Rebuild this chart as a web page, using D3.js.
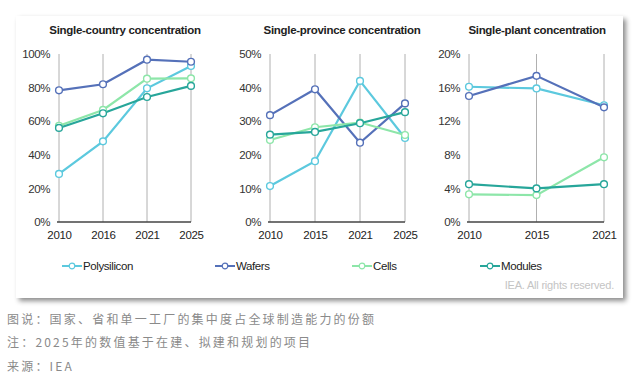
<!DOCTYPE html>
<html><head><meta charset="utf-8">
<script src="https://cdn.jsdelivr.net/npm/d3@7/dist/d3.min.js"></script>
<style>
html,body{margin:0;padding:0;background:#fff;}
svg{display:block;}
</style></head>
<body>
<svg id="c" width="640" height="379"></svg>
<script>
const seriesNames = ["Polysilicon","Wafers","Cells","Modules"];
const seriesColors = ["#5cc9de","#5571b9","#8de6a9","#27a69a"];

const countryYears = ["2010","2016","2021","2025"];
const countryPoly = [28.6,48,79.6,92.9];
const countryWafers = [78.4,82,96.6,95.4];
const countryCells = [57.3,66.7,85.3,85.5];
const countryModules = [56,64.7,74.4,81];
const countryTicks = [0,20,40,60,80,100];

const provinceYears = ["2010","2015","2021","2025"];
const provincePoly = [10.7,18.1,42,25];
const provinceWafers = [31.8,39.5,23.6,35.3];
const provinceCells = [24.4,28.2,29.6,25.9];
const provinceModules = [26,26.8,29.4,32.7];
const provinceTicks = [0,10,20,30,40,50];

const plantYears = ["2010","2015","2021"];
const plantPoly = [16.1,15.9,13.9];
const plantWafers = [15.0,17.4,13.65];
const plantCells = [3.3,3.2,7.7];
const plantModules = [4.5,4.0,4.5];
const plantTicks = [0,4,8,12,16,20];

const captions = ["图说：国家、省和单一工厂的集中度占全球制造能力的份额","注：2025年的数值基于在建、拟建和规划的项目","来源：IEA"];

const svg = d3.select("#c");
const defs = svg.append("defs");
const f = defs.append("filter").attr("id","sh").attr("x","-5%").attr("y","-5%").attr("width","110%").attr("height","115%");
f.append("feDropShadow").attr("dx",3).attr("dy",3).attr("stdDeviation",2.5).attr("flood-color","#000").attr("flood-opacity",0.45);

svg.append("rect").attr("x",16).attr("y",16).attr("width",607).attr("height",282).attr("fill","#fff").attr("filter","url(#sh)");

const panels = [
  {title:"Single-country concentration", years:countryYears, data:[countryPoly,countryWafers,countryCells,countryModules], ticks:countryTicks, x0:59, x1:191, tx:125},
  {title:"Single-province concentration", years:provinceYears, data:[provincePoly,provinceWafers,provinceCells,provinceModules], ticks:provinceTicks, x0:270, x1:405, tx:342},
  {title:"Single-plant concentration", years:plantYears, data:[plantPoly,plantWafers,plantCells,plantModules], ticks:plantTicks, x0:469, x1:604, tx:537}
];
const font = "Liberation Sans, Arial, sans-serif";
const yTop = 54, yBot = 222;

panels.forEach(p => {
  const g = svg.append("g");
  const x = d3.scalePoint().domain(p.years).range([p.x0,p.x1]);
  const y = d3.scaleLinear().domain([0,p.ticks[p.ticks.length-1]]).range([yBot,yTop]);
  g.append("text").attr("x",p.tx).attr("y",34).attr("text-anchor","middle")
    .attr("font-family",font).attr("font-weight","bold").attr("font-size",11.5).attr("fill","#222")
    .attr("letter-spacing","-0.3").text(p.title);
  g.selectAll(".vg").data(p.years).enter().append("line")
    .attr("x1",d=>x(d)).attr("x2",d=>x(d)).attr("y1",yTop).attr("y2",yBot)
    .attr("stroke","#b0b0b0").attr("stroke-width",1);
  const ya = d3.axisLeft(y).tickValues(p.ticks).tickSize(0).tickPadding(9).tickFormat(d=>d+"%");
  const yg = g.append("g").attr("transform",`translate(${p.x0},0)`).call(ya);
  yg.select(".domain").remove();
  yg.selectAll("text").attr("font-family",font).attr("font-size",11.5).attr("fill","#333").attr("letter-spacing","-0.4");
  const xa = d3.axisBottom(x).tickSize(0).tickPadding(9);
  const xg = g.append("g").attr("transform",`translate(0,${yBot})`).call(xa);
  xg.select(".domain").attr("d",`M${p.x0-2},0H${p.x1}`).attr("stroke","#444").attr("stroke-width",1.3);
  xg.selectAll("text").attr("font-family",font).attr("font-size",11.5).attr("fill","#222").attr("letter-spacing","-0.3");
  const line = d3.line().x((d,i)=>x(p.years[i])).y(d=>y(d));
  p.data.forEach((s,si) => {
    g.append("path").datum(s).attr("d",line).attr("fill","none")
      .attr("stroke",seriesColors[si]).attr("stroke-width",2.2);
  });
  p.data.forEach((s,si) => {
    g.selectAll(null).data(s).enter().append("circle")
      .attr("cx",(d,i)=>x(p.years[i])).attr("cy",d=>y(d)).attr("r",3.4)
      .attr("fill","#fff").attr("stroke",seriesColors[si]).attr("stroke-width",1.4);
  });
});

// legend
const legX = [62,215,352,480];
seriesNames.forEach((n,i) => {
  const g = svg.append("g").attr("transform",`translate(${legX[i]},266)`);
  g.append("line").attr("x1",0).attr("x2",20).attr("y1",0).attr("y2",0).attr("stroke",seriesColors[i]).attr("stroke-width",2);
  g.append("circle").attr("cx",10).attr("cy",0).attr("r",2.8).attr("fill","#fff").attr("stroke",seriesColors[i]).attr("stroke-width",1.2);
  g.append("text").attr("x",21).attr("y",4).attr("font-family",font).attr("font-size",11.5)
    .attr("letter-spacing","-0.4").attr("fill","#222").text(n);
});
svg.append("text").attr("x",614).attr("y",289).attr("text-anchor","end").attr("font-family",font)
  .attr("font-size",11).attr("fill","#c4c4c4").attr("letter-spacing","-0.2").text("IEA. All rights reserved.");

captions.forEach((c,i) => {
  svg.append("text").attr("x",7).attr("y",323.5+i*23.5).attr("font-family","Noto Sans CJK SC, sans-serif")
    .attr("font-size",12).attr("fill","#8a8a8a").attr("letter-spacing","2.2").text(c);
});
</script>
</body></html>
